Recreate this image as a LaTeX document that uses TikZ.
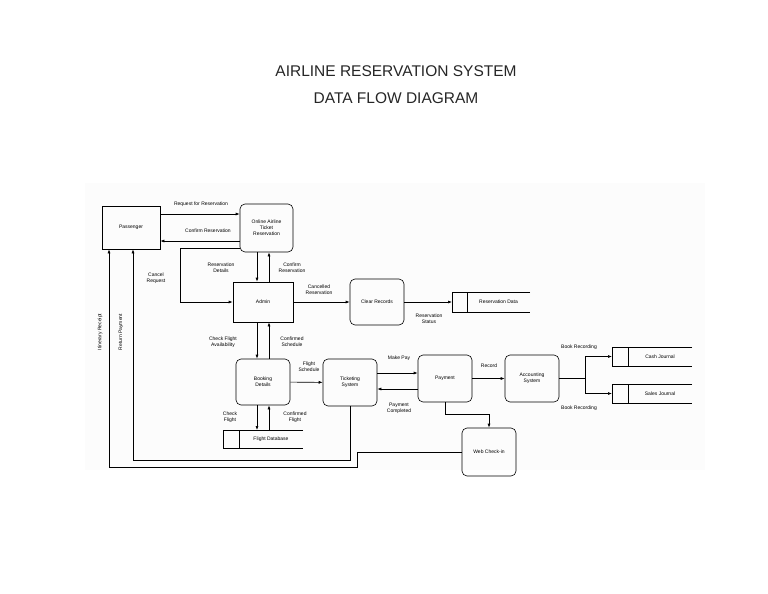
\documentclass[tikz,border=0pt]{standalone}
\usepackage{fontspec}
\setmainfont{Liberation Sans}
\usetikzlibrary{arrows.meta}
\begin{document}
\begin{tikzpicture}[x=1pt,y=-1pt,
  proc/.style={draw,line width=0.6pt,rounded corners=5pt,inner sep=0pt,font=\fontsize{5}{6}\selectfont,align=center},
  ent/.style={draw,line width=0.6pt,inner sep=0pt,font=\fontsize{5}{6}\selectfont,align=center},
  lbl/.style={font=\fontsize{5}{6}\selectfont,align=center,inner sep=0pt},
  fl/.style={line width=0.6pt,-{Latex[length=4pt,width=3pt]}},
  ln/.style={line width=0.6pt}]
\useasboundingbox (0,0) rectangle (768,594);
\fill[gray!2] (85,183) rectangle (705,470);
\node[font=\fontsize{15.5}{18}\selectfont,text=black!85] (t1) at (396,71) {AIRLINE RESERVATION SYSTEM};
\node[font=\fontsize{15.5}{18}\selectfont,text=black!85] (t2) at (396,98) {DATA FLOW DIAGRAM};
% nodes
\node[ent,minimum width=58pt,minimum height=43pt] (pas) at (131,227.5) {Passenger};
\node[proc,minimum width=53pt,minimum height=48pt] (onl) at (266.5,228) {Online Airline\\Ticket\\Reservation};
\node[ent,minimum width=60pt,minimum height=40pt] (adm) at (263,302) {Admin};
\node[proc,minimum width=54pt,minimum height=46pt] (clr) at (377,302) {Clear Records};
\node[proc,minimum width=54pt,minimum height=46pt] (bok) at (263,382) {Booking\\Details};
\node[proc,minimum width=54pt,minimum height=47pt] (tkt) at (350,382.5) {Ticketing\\System};
\node[proc,minimum width=54pt,minimum height=47pt] (pay) at (445,378.5) {Payment};
\node[proc,minimum width=54pt,minimum height=47pt] (acc) at (532,378.5) {Accounting\\System};
\node[proc,minimum width=54pt,minimum height=48pt] (web) at (489,452) {Web Check-in};
% data stores
\coordinate (rd) at (452,302);
\draw[ln] (530,292) -- (452,292) -- (452,312) -- (530,312) (467,292) -- (467,312);
\node[lbl] (rdt) at (498.5,302) {Reservation Data};
\coordinate (cj) at (612,356.5);
\draw[ln] (692,347) -- (612,347) -- (612,366) -- (692,366) (628,347) -- (628,366);
\node[lbl] (cjt) at (660,356.5) {Cash Journal};
\coordinate (sj) at (612,393.5);
\draw[ln] (692,384) -- (612,384) -- (612,403) -- (692,403) (628,384) -- (628,403);
\node[lbl] (sjt) at (660,393.5) {Sales Journal};
\coordinate (fd) at (263,430);
\draw[ln] (303,430) -- (223,430) -- (223,448) -- (303,448) (239,430) -- (239,448);
\node[lbl] (fdt) at (271,439) {Flight Database};
% flows
\draw[fl] (pas.east|-0,214) -- (onl.west|-0,214);
\node[lbl] at (201,204) {Request for Reservation};
\draw[fl] (onl.west|-0,241) -- (pas.east|-0,241);
\node[lbl] at (208,231) {Confirm Reservation};
\draw[fl] (onl.west|-0,248) -| (180,302) -- (adm.west);
\node[lbl] at (156,278) {Cancel\\Request};
\draw[fl] (onl.south-|257,0) -- (adm.north-|257,0);
\node[lbl] at (221,268) {Reservation\\Details};
\draw[fl] (adm.north-|269,0) -- (onl.south-|269,0);
\node[lbl] at (292,268) {Confirm\\Reservation};
\draw[fl] (adm) -- (clr);
\node[lbl] at (319,290) {Cancelled\\Reservation};
\draw[fl] (clr) -- (rd);
\node[lbl] at (429,319) {Reservation\\Status};
\draw[fl] (adm.south-|257,0) -- (bok.north-|257,0);
\node[lbl] at (223,342) {Check Flight\\Availability};
\draw[fl] (bok.north-|269,0) -- (adm.south-|269,0);
\node[lbl] at (292,342) {Confirmed\\Schedule};
\draw[fl] (bok) -- (tkt);
\node[lbl] at (309,367) {Flight\\Schedule};
\draw[fl] (bok.south-|257,0) -- (fd-|257,0);
\node[lbl] at (230,417) {Check\\Flight};
\draw[fl] (fd-|269,0) -- (bok.south-|269,0);
\node[lbl] at (295,417) {Confirmed\\Flight};
\draw[fl] (tkt.east|-0,373) -- (pay.west|-0,373);
\node[lbl] at (399,358) {Make Pay};
\draw[fl] (pay.west|-0,389) -- (tkt.east|-0,389);
\node[lbl] at (399,408) {Payment\\Completed};
\draw[fl] (pay) -- (acc);
\node[lbl] at (489,366) {Record};
\coordinate (j) at (585,378.5);
\draw[ln] (acc) -- (j);
\draw[fl] (j) |- (cj);
\draw[fl] (j) |- (sj);
\node[lbl] at (579,347) {Book Recording};
\node[lbl] at (579,408) {Book Recording};
\draw[fl] (pay.south) -- (445,414) -| (web.north);
\draw[fl] (tkt.south) |- (133,460) -- (pas.south-|133,0);
\node[lbl,rotate=90] at (121,332) {Return Payment};
\draw[fl] (web.west) -- (357,452) |- (109,467) -- (pas.south-|109,0);
\node[lbl,rotate=90] at (100,332) {Itinerary Receipt};
\end{tikzpicture}
\end{document}
